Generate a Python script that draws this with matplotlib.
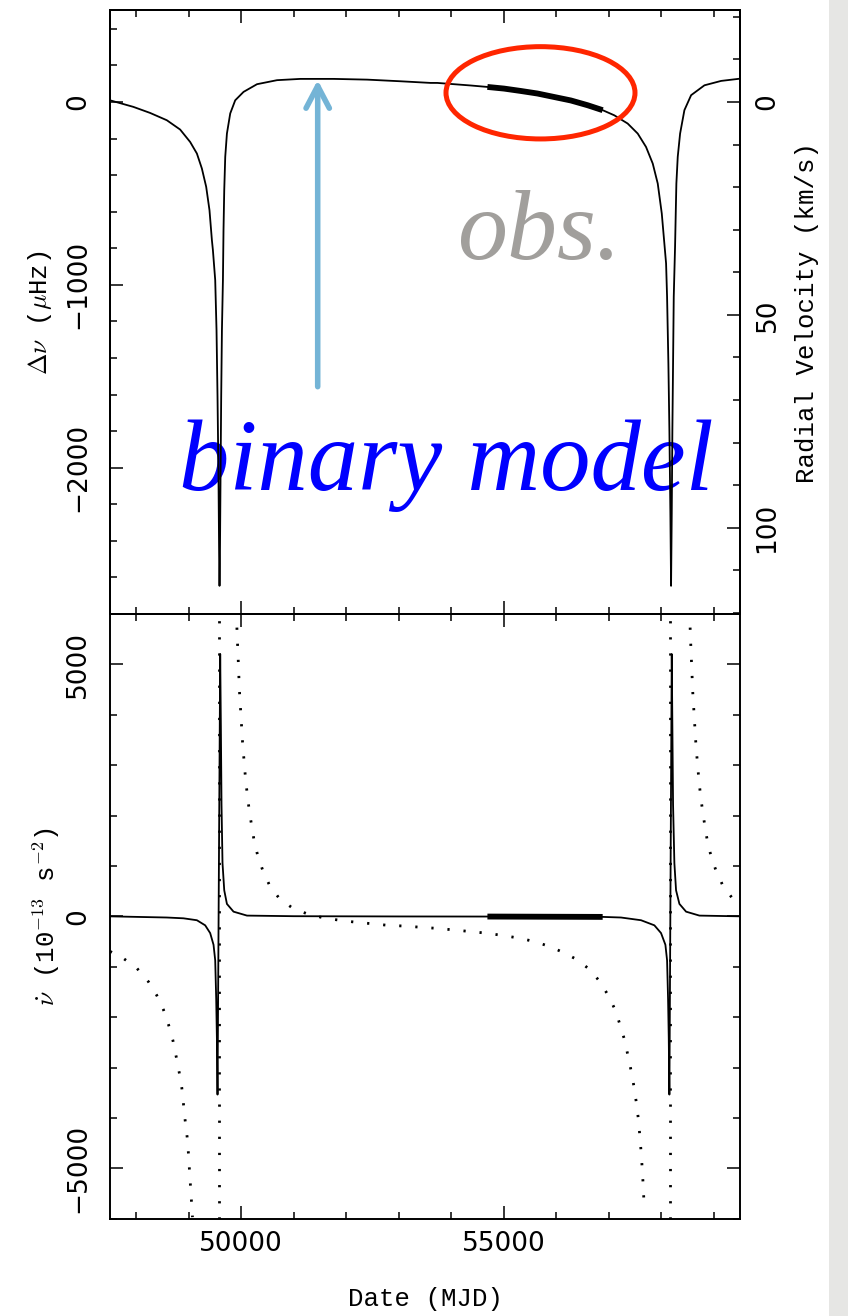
import numpy as np
import matplotlib
matplotlib.use("Agg")
import matplotlib.pyplot as plt
from matplotlib.patches import Ellipse, Rectangle
from matplotlib.ticker import MultipleLocator

plt.rcParams['mathtext.fontset'] = 'cm'

# ---------------- data ----------------
# top panel: frequency offset (uHz) of the binary model
TOP_MJD = [47500, 47945, 48263, 48582, 48836, 49027, 49155, 49250, 49332, 49395,
           49441, 49460, 49504, 49529, 49548, 49567, 49580, 49586, 49593, 49605,
           49618, 49632, 49651, 49662, 49676, 49695, 49727, 49790, 49885, 50044,
           50300, 50681, 51126, 51762, 52399, 53034, 53607, 53735, 54052, 54370,
           54689, 55006, 55324, 55643, 55960, 56279, 56597, 56884, 57105, 57360,
           57552, 57710, 57838, 57933, 58010, 58092, 58111, 58136, 58155,
           58174, 58187, 58200, 58212, 58225, 58238, 58263, 58276, 58288, 58314,
           58359, 58441, 58569, 58823, 59141, 59523]
TOP_DNU = [9, -27, -60, -100, -151, -219, -282, -364, -464, -592,
           -756, -810, -974, -1248, -1612, -2067, -2522, -2646, -2522, -2067,
           -1612, -1248, -974, -702, -483, -300, -173, -63, 9, 55,
           97, 119, 126, 126, 122, 113, 104, 104, 97, 90,
           82, 73, 60, 46, 27, 8, -18, -45, -73, -118,
           -173, -246, -337, -446, -610, -883, -1066, -1430, -1794,
           -2249, -2646, -2249, -1794, -1430, -1066, -792, -610, -446, -300,
           -173, -45, 37, 91, 115, 128]

# observed span (thick segment)
OBS_MJD = [54689, 55006, 55324, 55643, 55960, 56279, 56597, 56884]
OBS_DNU = [82, 73, 60, 46, 27, 8, -18, -45]
OBS_NUDOT = [-4, -5, -6, -7, -8, -9, -10, -11]

# bottom panel: frequency derivative (1e-13 s^-2), solid curve
NUDOT_MJD = [47500, 48582, 48900, 49155, 49313, 49408, 49472, 49504, 49523, 49536,
             49548, 49599, 49612, 49624, 49643, 49676, 49727, 49853, 50109, 51000,
             53000, 54689, 56884, 57233, 57615, 57869, 57996, 58079, 58111, 58130,
             58143, 58155, 58200, 58212, 58225, 58250, 58282, 58346, 58473, 58727,
             59523]
NUDOT = [0, -23, -39, -77, -178, -332, -564, -873, -1645, -2417,
         -3537, 5205, 3761, 2216, 1058, 517, 247, 93, 15, 3,
         -2, -4, -11, -23, -77, -178, -332, -564, -873, -1645,
         -2417, -3537, 5205, 3761, 2216, 1058, 517, 247, 93, 15,
         0]

# bottom panel: dotted curve, three visible branches
DOT1_MJD = [47500, 47755, 48010, 48232, 48391, 48518, 48614, 48697, 48760, 48817,
            48868, 48900, 48932, 48970, 48995, 49014, 49033, 49052, 49071]
DOT1 = [-695, -834, -1027, -1297, -1568, -1853, -2147, -2456, -2780, -3089,
        -3405, -3730, -4054, -4386, -4718, -5042, -5351, -5660, -5969]

DOT2_MJD = [49917, 49930, 49943, 49955, 49968, 49987, 50006, 50025, 50051, 50076,
            50108, 50146, 50191, 50242, 50312, 50407, 50541, 50725, 50980, 51266,
            51571, 51870, 52176, 52494, 52793, 53111, 53416, 53734, 54052, 54357,
            54656, 54975, 55293, 55592, 55865, 56139, 56393, 56641, 56832, 56998,
            57125, 57220, 57309, 57373, 57436, 57487, 57532, 57570, 57595, 57621,
            57640, 57659, 57672]
DOT2 = [5730, 5398, 5073, 4749, 4432, 4108, 3776, 3452, 3120, 2803,
        2479, 2154, 1846, 1521, 1212, 919, 610, 355, 162, 46,
        -31, -77, -116, -147, -178, -193, -216, -239, -270, -301,
        -332, -378, -432, -502, -595, -718, -857, -1058, -1297, -1583,
        -1861, -2170, -2479, -2803, -3112, -3421, -3745, -4077, -4402, -4734,
        -5058, -5390, -5714]

DOT3_MJD = [58550, 58562, 58575, 58588, 58601, 58620, 58639, 58658, 58683, 58709,
            58740, 58779, 58823, 58874, 58944, 59039, 59173, 59357]
DOT3 = [5730, 5398, 5073, 4749, 4432, 4108, 3776, 3452, 3120, 2803,
        2479, 2154, 1846, 1521, 1212, 919, 610, 355]

# periastron passages where the dotted curve sweeps through the full range
PERI_MJD = [49580, 58174]

# axis settings
XLIM = (47500, 59500)
TOP_YLIM = (-2800, 500)
BOT_YLIM = (-6000, 6000)
F0_HZ = 6.98            # spin frequency used to convert to radial velocity
C_KMS = 299792.458


def dnu_to_rv(dnu):
    return -np.asarray(dnu, dtype=float) * 1e-6 / F0_HZ * C_KMS


# ---------------- figure ----------------
W, H = 848, 1316
fig = plt.figure(figsize=(W / 100, H / 100), dpi=100)
fig.patch.set_facecolor('white')

# grey strip at right edge (slide background)
fig.add_artist(Rectangle((829 / W, 0), 19 / W, 1, transform=fig.transFigure,
                         facecolor='#e6e6e4', edgecolor='none', zorder=0))

L, R = 110, 740
T1, M, B2 = 10.5, 614, 1218.7
ax1 = fig.add_axes([L / W, 1 - M / H, (R - L) / W, (M - T1) / H])
ax2 = fig.add_axes([L / W, 1 - B2 / H, (R - L) / W, (B2 - M) / H])

label_family = 'Liberation Mono'
TICK_FS = 19
LABEL_FS = 18.5

for ax in (ax1, ax2):
    for s in ax.spines.values():
        s.set_linewidth(1.4)
    ax.set_xlim(*XLIM)
    ax.xaxis.set_major_locator(MultipleLocator(5000))
    ax.xaxis.set_minor_locator(MultipleLocator(1000))
    ax.tick_params(axis='both', which='major', direction='in', length=9.6, width=1.1,
                   labelsize=TICK_FS)
    ax.tick_params(axis='both', which='minor', direction='in', length=4.8, width=1.1)

# ---------------- top panel ----------------
ax1.plot(TOP_MJD, TOP_DNU, color='black', lw=1.3, zorder=3)
ax1.plot(OBS_MJD, OBS_DNU, color='black', lw=4.2, solid_capstyle='butt', zorder=4)
ax1.set_ylim(*TOP_YLIM)
ax1.yaxis.set_major_locator(MultipleLocator(1000))
ax1.yaxis.set_minor_locator(MultipleLocator(200))
ax1.tick_params(axis='x', which='both', top=True, bottom=True, labelbottom=False)
ax1.tick_params(axis='y', which='both', left=True, right=False, labelrotation=90, pad=13.5)
ax1.set_ylabel(r'$\Delta\nu$ ($\mu$Hz)', fontsize=LABEL_FS, family=label_family)
ax1.yaxis.set_label_coords((54 - L) / (R - L), 0.5)

axr = ax1.twinx()
axr.set_ylim(dnu_to_rv(TOP_YLIM[0]), dnu_to_rv(TOP_YLIM[1]))
axr.yaxis.set_major_locator(MultipleLocator(50))
axr.yaxis.set_minor_locator(MultipleLocator(10))
axr.tick_params(axis='y', which='major', direction='in', length=9.6, width=1.1,
                labelsize=TICK_FS, labelrotation=90, pad=10.5)
axr.tick_params(axis='y', which='minor', direction='in', length=4.8, width=1.1)
for s in axr.spines.values():
    s.set_linewidth(1.4)
axr.set_ylabel('Radial Velocity (km/s)', fontsize=LABEL_FS, family=label_family)
axr.yaxis.set_label_coords((795 - L) / (R - L), 0.5)

# annotations
ax1.add_patch(Ellipse(((540.5 - L) / (R - L), (M - 92.8) / (M - T1)),
                      189 / (R - L), 92.3 / (M - T1), transform=ax1.transAxes,
                      facecolor='none', edgecolor='#ff2600', lw=3.6, zorder=6))
ax1.annotate('', xy=((317.7 - L) / (R - L), (M - 80) / (M - T1)),
             xytext=((317.7 - L) / (R - L), (M - 386.7) / (M - T1)),
             xycoords='axes fraction', textcoords='axes fraction',
             arrowprops=dict(arrowstyle='->,head_length=0.8,head_width=0.42',
                             mutation_scale=20, lw=4, color='#74b4d6',
                             shrinkA=0, shrinkB=0), zorder=5)
ax1.text((456.7 - L) / (R - L), (M - 259.3) / (M - T1), 'obs.',
         transform=ax1.transAxes, fontsize=72, family='Liberation Serif',
         style='italic', color='#a19f9c', ha='left', va='baseline', zorder=1)
ax1.text((179.3 - L) / (R - L), (M - 490) / (M - T1), 'binary model',
         transform=ax1.transAxes, fontsize=72.5, family='Liberation Serif',
         style='italic', color='#0000ff', ha='left', va='baseline', zorder=1)

# ---------------- bottom panel ----------------
dot_style = dict(color='black', lw=2.0, linestyle=(0, (0.8, 5.0)), zorder=2)
ax2.plot(DOT1_MJD, DOT1, **dot_style)
ax2.plot(DOT2_MJD, DOT2, **dot_style)
ax2.plot(DOT3_MJD, DOT3, **dot_style)
for m in PERI_MJD:
    ax2.axvline(m, **dot_style)
ax2.plot(NUDOT_MJD, NUDOT, color='black', lw=1.3, zorder=3)
ax2.plot(OBS_MJD, OBS_NUDOT, color='black', lw=4.2, solid_capstyle='butt', zorder=4)
ax2.set_ylim(*BOT_YLIM)
ax2.yaxis.set_major_locator(MultipleLocator(5000))
ax2.yaxis.set_minor_locator(MultipleLocator(1000))
ax2.tick_params(axis='x', which='both', top=True, bottom=True, pad=9)
ax2.tick_params(axis='y', which='both', left=True, right=True, labelrotation=90, pad=13.5)
ax2.set_ylabel(r'$\dot{\nu}$ (10$^{-13}$ s$^{-2}$)', fontsize=LABEL_FS, family=label_family)
ax2.yaxis.set_label_coords((62 - L) / (R - L), 0.5)
ax2.set_xlabel('Date (MJD)', fontsize=LABEL_FS, family=label_family)
ax2.xaxis.set_label_coords(0.5, (B2 - 1287) / (B2 - M))

for ax in (ax1, ax2, axr):
    for lbl in ax.get_yticklabels():
        lbl.set_verticalalignment('center')
        lbl.set_family('DejaVu Sans')
for lbl in ax2.get_xticklabels():
    lbl.set_family('DejaVu Sans')

fig.savefig('out.png', dpi=100)
